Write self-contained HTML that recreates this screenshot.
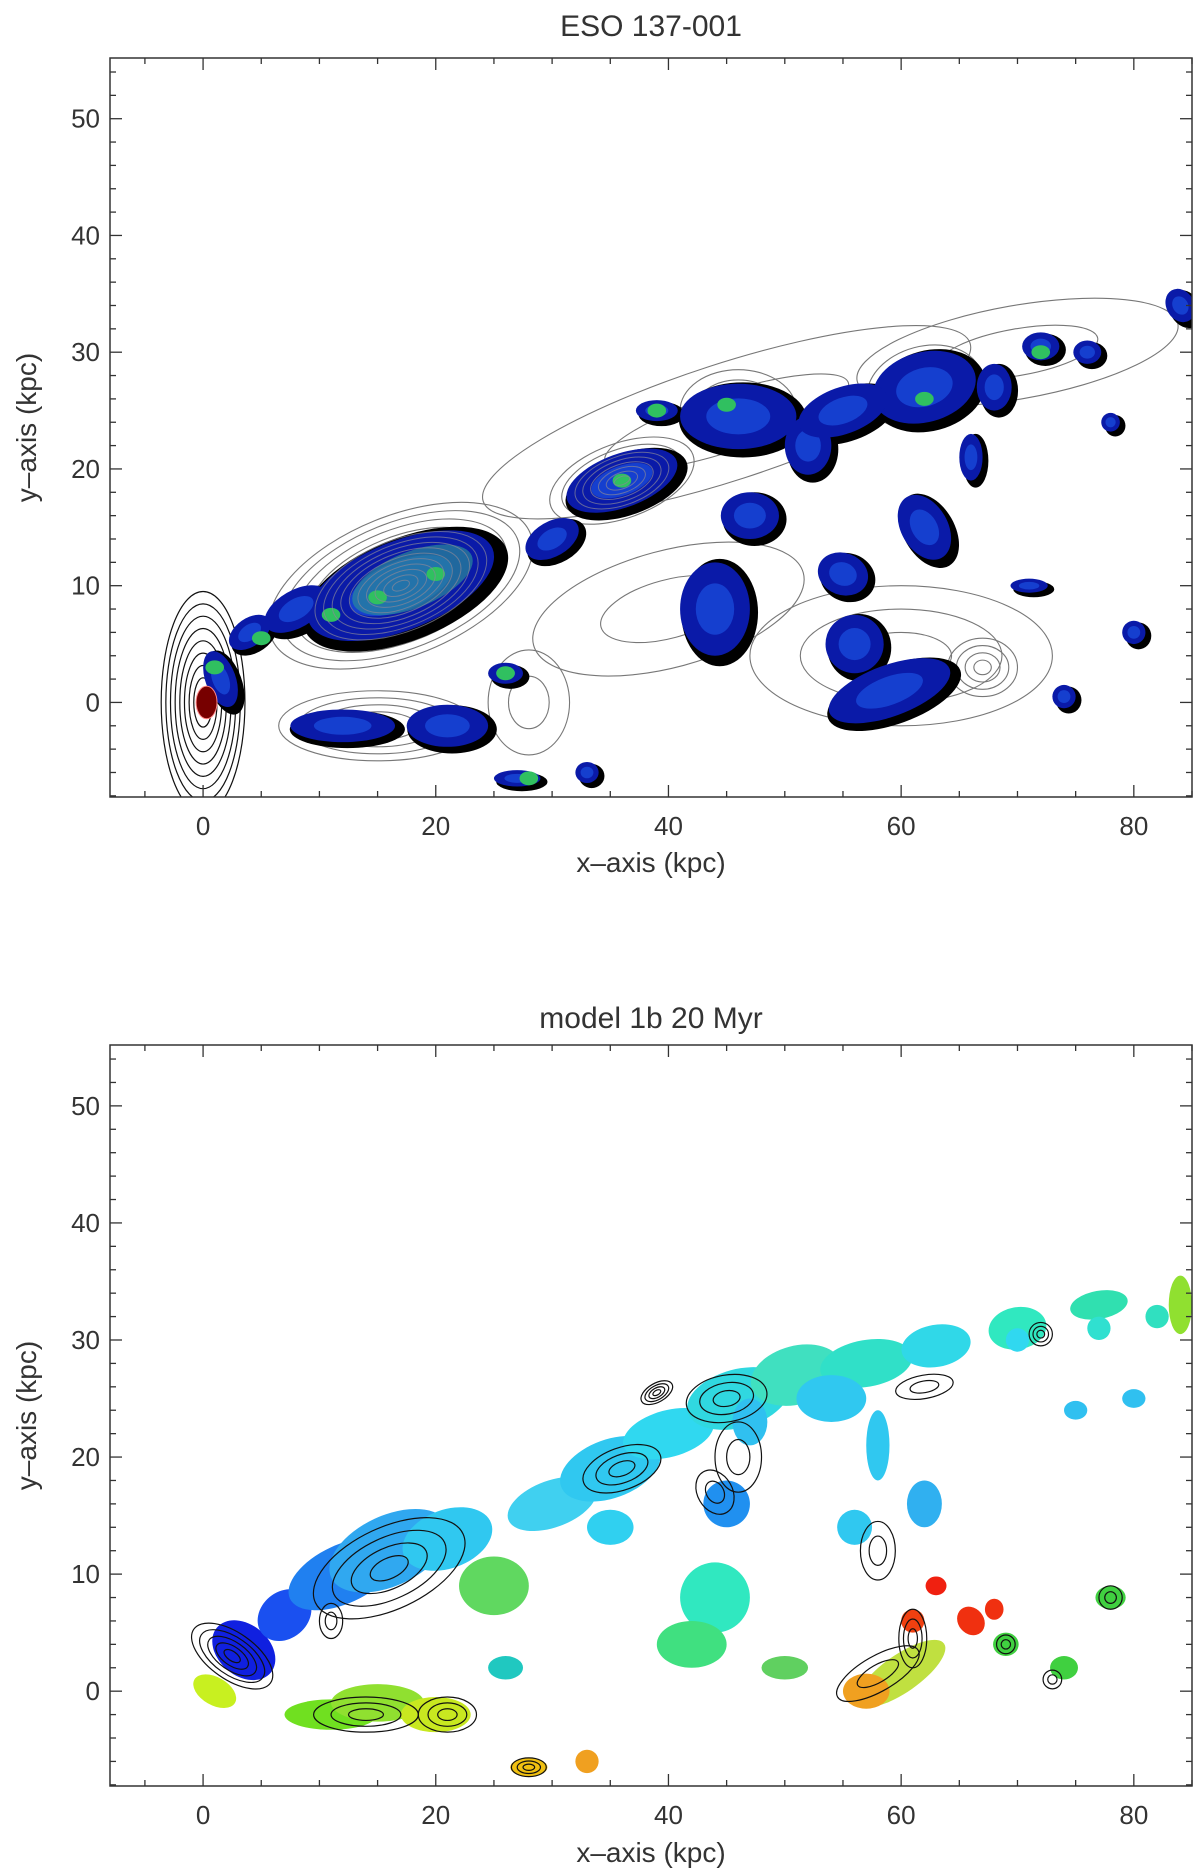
<!DOCTYPE html>
<html><head><meta charset="utf-8">
<style>
html,body{margin:0;padding:0;background:#fff;}
svg{display:block;}
text{font-family:"Liberation Sans",sans-serif;fill:#333;}
</style></head>
<body>
<svg id="fig" width="1200" height="1874" viewBox="0 0 1200 1874" xmlns="http://www.w3.org/2000/svg">
<g id="p1"></g>
<g id="p2"></g>
</svg>
<script>
// axis tick data
const xTickValues = [0, 20, 40, 60, 80];
const yTickValues = [0, 10, 20, 30, 40, 50];
const xRange = [-8, 85];
const yRange = [-8.1, 55.2];
const titles = ["ESO 137-001", "model 1b    20 Myr"];

// top panel: blue blobs
const topBlobX = [17, 8, 12, 21, 36, 39, 46, 62, 72, 44, 59, 62, 47, 55, 4, 1.5, 26, 33, 27, 80, 74, 52, 56, 78, 71, 84, 30, 68, 66, 76, 55];
const topBlobY = [10, 8, -2, -2, 19, 25, 24.5, 27, 30.5, 8, 1, 15, 16, 11, 6, 2, 2.5, -6, -6.5, 6, 0.5, 22, 5, 24, 10, 34, 14, 27, 21, 30, 25];
const topBlobRX = [8.5, 3, 4.5, 3.5, 5, 1.8, 5, 4.5, 1.6, 3, 5.5, 2, 2.5, 2.2, 2, 1.3, 1.5, 1, 2, 1, 1, 2, 2.5, 0.8, 1.6, 1.2, 2.5, 1.5, 1, 1.2, 4];
const topBlobRY = [3.8, 1.6, 1.4, 1.8, 2.3, 0.9, 2.8, 3, 1.2, 4, 2.2, 3, 2, 1.8, 1.2, 2.5, 0.9, 0.9, 0.7, 1, 1, 2.5, 2.5, 0.8, 0.6, 1.5, 1.5, 2, 2, 1, 2];
const topBlobRot = [-22, -30, 0, 0, -20, 0, 0, -15, 0, 0, -20, -30, 0, 20, -35, -20, 0, 0, 0, 0, 0, 0, 0, 0, 0, -30, -30, 0, 0, 0, -20];
// top panel: bright knots
const topKnotX = [20, 15, 11, 39, 45, 62, 72, 5, 1, 26, 28, 36];
const topKnotY = [11, 9, 7.5, 25, 25.5, 26, 30, 5.5, 3, 2.5, -6.5, 19];
// top panel: gray contour families
const contX = [17, 36, 15, 46, 62, 67, 60, 28, 45, 70, 40];
const contY = [10, 19, -2, 25, 27, 3, 4, 0, 24, 30, 8];
const contRX = [12, 6.5, 8.5, 5, 5, 3, 13, 3.5, 22, 14, 12];
const contRY = [6, 3.2, 3, 3.5, 3.5, 2.5, 6, 4.5, 5, 4, 5];
const contRot = [-22, -20, 0, 0, -15, 0, 0, 0, -18, -10, -15];
const contN = [10, 6, 5, 4, 4, 4, 3, 2, 2, 2, 2];

// bottom panel: colored blobs
const botBlobX = [1, 3.5, 7, 12, 16, 21, 25, 30, 35, 40, 46, 51, 57, 63, 70, 77, 11, 15, 20, 28, 33, 44, 42, 60, 57, 63, 66, 68, 61, 74, 45, 56, 62, 75, 80, 84, 35, 78, 69, 50, 26, 54, 70, 77, 82, 47, 58];
const botBlobY = [0, 3.5, 6.5, 10, 12, 13, 9, 16, 19, 22, 25, 27, 28, 29.5, 31, 33, -2, -1, -2, -6.5, -6, 8, 4, 1.5, 0, 9, 6, 7, 6, 2, 16, 14, 16, 24, 25, 33, 14, 8, 4, 2, 2, 25, 30, 31, 32, 23, 21];
const botBlobRX = [1.2, 2.2, 2.5, 5, 5.5, 4, 3, 4, 4.5, 4, 4.5, 4, 4, 3, 2.5, 2.5, 4, 4, 3, 1.6, 1, 3, 3, 4.5, 2, 0.9, 1.1, 0.8, 1, 1.2, 2, 1.5, 1.5, 1, 1, 1, 2, 1.3, 1.1, 2, 1.5, 3, 1, 1, 1, 1.5, 1];
const botBlobRY = [2, 3, 2, 2.5, 3, 2.5, 2.5, 2, 2.5, 2, 2.5, 2.5, 2, 1.8, 1.8, 1.2, 1.3, 1.6, 1.5, 0.8, 1, 3, 2, 1.6, 1.5, 0.8, 1.3, 0.9, 1, 1, 2, 1.5, 2, 0.8, 0.8, 2.5, 1.5, 1, 1, 1, 1, 2, 1, 1, 1, 2, 3];
const botBlobRot = [-60, -50, -40, -25, -25, -20, 0, -20, -20, -15, -15, -15, -10, -10, -10, -10, 0, 0, 0, 0, 0, 0, 0, -35, 0, 0, -40, 0, 0, 0, -30, 0, 0, 0, 0, 0, 0, 0, 0, 0, 0, 0, 0, 0, 0, 0, 0];
const botBlobColor = ["#c8f020", "#1020e0", "#1a50f0", "#2080f0", "#30a8f0", "#30c8f0", "#60d860", "#40d0f0", "#30c8f0", "#30d8f0", "#30d8e0", "#40e0c0", "#30e0c8", "#30d8e8", "#30e8c0", "#30e0b0", "#70e020", "#90e030", "#c8e820", "#f0c010", "#f0a020", "#30e8c0", "#40e080", "#c0e040", "#f0a020", "#f02010", "#f03010", "#f03010", "#f04010", "#40d040", "#2090f0", "#30c8f0", "#30b0f0", "#30c0f0", "#30c0f0", "#90e030", "#30d0f0", "#40d040", "#40d040", "#60d060", "#20c8c0", "#30c8f0", "#30d8f0", "#30e0d0", "#30e0c0", "#30c0f0", "#30c8f0"];
// bottom panel: black contour families
const bcX = [2.5, 16, 36, 45, 62, 14, 21, 28, 39, 61, 72, 78, 69, 58, 44, 46, 58, 73, 11];
const bcY = [3, 10.5, 19, 25, 26, -2, -2, -6.5, 25.5, 4.5, 30.5, 8, 4, 1.5, 17, 20, 12, 1, 6];
const bcRX = [2, 7, 3.5, 3.5, 2.5, 4.5, 2.5, 1.5, 1.5, 1.2, 1, 1, 0.8, 4, 1.5, 2, 1.5, 0.8, 1];
const bcRY = [4, 3.5, 1.8, 2, 1, 1.5, 1.5, 0.8, 0.8, 2.5, 1, 1, 0.8, 1.5, 2, 3, 2.5, 0.8, 1.5];
const bcRot = [-55, -25, -20, -10, -10, 0, 0, 0, -30, 0, 0, 0, 0, -30, -30, 0, 0, 0, 0];
const bcN = [5, 4, 3, 3, 2, 3, 3, 3, 4, 3, 3, 2, 2, 2, 2, 2, 2, 2, 2];

const NS = "http://www.w3.org/2000/svg";
function mk(tag, attrs, parent) {
  const e = document.createElementNS(NS, tag);
  for (const k in attrs) e.setAttribute(k, attrs[k]);
  parent.appendChild(e);
  return e;
}
const panels = [
  {g: document.getElementById('p1'), L: 110, R: 1192, T: 58, B: 797, titleY: 36, xlabY: 872},
  {g: document.getElementById('p2'), L: 110, R: 1192, T: 1045, B: 1786, titleY: 1028, xlabY: 1862}
];
function sx(p, v) { return p.L + (v - xRange[0]) / (xRange[1] - xRange[0]) * (p.R - p.L); }
function sy(p, v) { return p.B - (v - yRange[0]) / (yRange[1] - yRange[0]) * (p.B - p.T); }
function kx(p) { return (p.R - p.L) / (xRange[1] - xRange[0]); }
function ky(p) { return (p.B - p.T) / (yRange[1] - yRange[0]); }

function ell(p, parent, x, y, rx, ry, rot, style) {
  const e = mk('ellipse', {cx: sx(p, x), cy: sy(p, y), rx: rx * kx(p), ry: ry * ky(p),
    transform: `rotate(${rot} ${sx(p, x)} ${sy(p, y)})`}, parent);
  for (const k in style) e.setAttribute(k, style[k]);
  return e;
}

function axes(p, idx) {
  const g = p.g;
  const clip = mk('clipPath', {id: 'clip' + idx}, g);
  mk('rect', {x: p.L, y: p.T, width: p.R - p.L, height: p.B - p.T}, clip);
  const data = mk('g', {'clip-path': `url(#clip${idx})`}, g);
  
  
  const fr = mk('rect', {x: p.L, y: p.T, width: p.R - p.L, height: p.B - p.T, fill: 'none', stroke: '#333', 'stroke-width': 1.5}, g);
  
  
  for (let v = -5; v <= 85; v += 5) {
    const X = sx(p, v), len = (v % 20 === 0) ? 12 : 6;
    mk('line', {x1: X, x2: X, y1: p.B, y2: p.B - len, stroke: '#333', 'stroke-width': 1.3}, g);
    mk('line', {x1: X, x2: X, y1: p.T, y2: p.T + len, stroke: '#333', 'stroke-width': 1.3}, g);
  }
  for (let v = -8; v <= 54; v += 2) {
    const Y = sy(p, v), len = (v % 10 === 0) ? 12 : 6;
    mk('line', {x1: p.L, x2: p.L + len, y1: Y, y2: Y, stroke: '#333', 'stroke-width': 1.3}, g);
    mk('line', {x1: p.R, x2: p.R - len, y1: Y, y2: Y, stroke: '#333', 'stroke-width': 1.3}, g);
  }
  xTickValues.forEach(v => {
    const t = mk('text', {x: sx(p, v), y: p.B + 38, 'text-anchor': 'middle', 'font-size': 26}, g);
    t.textContent = v;
    
    
  });
  yTickValues.forEach(v => {
    const t = mk('text', {x: p.L - 10, y: sy(p, v) + 9, 'text-anchor': 'end', 'font-size': 26}, g);
    t.textContent = v;
    
    
  });
  const tt = mk('text', {x: (p.L + p.R) / 2, y: p.titleY, 'text-anchor': 'middle', 'font-size': 30, 'xml:space': 'preserve'}, g);
  tt.textContent = titles[idx];
  
  
  const xl = mk('text', {x: (p.L + p.R) / 2, y: p.xlabY, 'text-anchor': 'middle', 'font-size': 28}, g);
  xl.textContent = 'x\u2013axis (kpc)';
  
  
  const yc = (p.T + p.B) / 2;
  const yl = mk('text', {x: 36, y: yc, 'text-anchor': 'middle', 'font-size': 28, transform: `rotate(-90 36 ${yc})`}, g);
  yl.textContent = 'y\u2013axis (kpc)';
  
  
  return data;
}

// top panel
(function () {
  const p = panels[0];
  const d = axes(p, 0);
  for (let i = 1; i <= 9; i++) {
    ell(p, d, 0, 0, 3.6 * i / 9, 9.5 * i / 9, 0, {fill: 'none', stroke: '#111', 'stroke-width': 1.2});
  }
  for (let i = 0; i < contX.length; i++) {
    for (let k = 1; k <= contN[i]; k++) {
      const f = k / contN[i];
      const c = ell(p, d, contX[i], contY[i], contRX[i] * f, contRY[i] * f, contRot[i], {fill: 'none', stroke: '#777', 'stroke-width': 1.1});
      
      
    }
  }
  for (let i = 0; i < topBlobX.length; i++) {
    ell(p, d, topBlobX[i] + 0.4, topBlobY[i] - 0.3, topBlobRX[i] * 1.1, topBlobRY[i] * 1.15, topBlobRot[i], {fill: '#000'});
  }
  for (let i = 0; i < topBlobX.length; i++) {
    const b = ell(p, d, topBlobX[i], topBlobY[i], topBlobRX[i], topBlobRY[i], topBlobRot[i], {fill: '#0a1aa8'});
    
    
    ell(p, d, topBlobX[i], topBlobY[i], topBlobRX[i] * 0.55, topBlobRY[i] * 0.55, topBlobRot[i], {fill: '#1848d8', opacity: 0.8});
  }
  ell(p, d, 18, 10.5, 5.5, 2.4, -22, {fill: '#2a8a9a', opacity: 0.7});
  for (let i = 0; i < topKnotX.length; i++) {
    const k = ell(p, d, topKnotX[i], topKnotY[i], 0.8, 0.6, 0, {fill: '#30c060'});
    
    
  }
  ell(p, d, 0.3, 0, 0.9, 1.4, 0, {fill: '#700', stroke: '#f88'});
  for (let i = 0; i < 2; i++) {
    for (let k = 1; k <= contN[i]; k++) {
      const f = k / contN[i];
      ell(p, d, contX[i], contY[i], contRX[i] * f * 0.65, contRY[i] * f * 0.65, contRot[i], {fill: 'none', stroke: '#889', 'stroke-width': 1, opacity: 0.7});
    }
  }
})();

// bottom panel
(function () {
  const p = panels[1];
  const d = axes(p, 1);
  for (let i = 0; i < botBlobX.length; i++) {
    const b = ell(p, d, botBlobX[i], botBlobY[i], botBlobRX[i], botBlobRY[i], botBlobRot[i], {fill: botBlobColor[i]});
    
    
  }
  for (let i = 0; i < bcX.length; i++) {
    for (let k = 1; k <= bcN[i]; k++) {
      const f = k / bcN[i];
      const c = ell(p, d, bcX[i], bcY[i], bcRX[i] * f, bcRY[i] * f, bcRot[i], {fill: 'none', stroke: '#111', 'stroke-width': 1.2});
      
      
    }
  }
})();
</script>
</body></html>
